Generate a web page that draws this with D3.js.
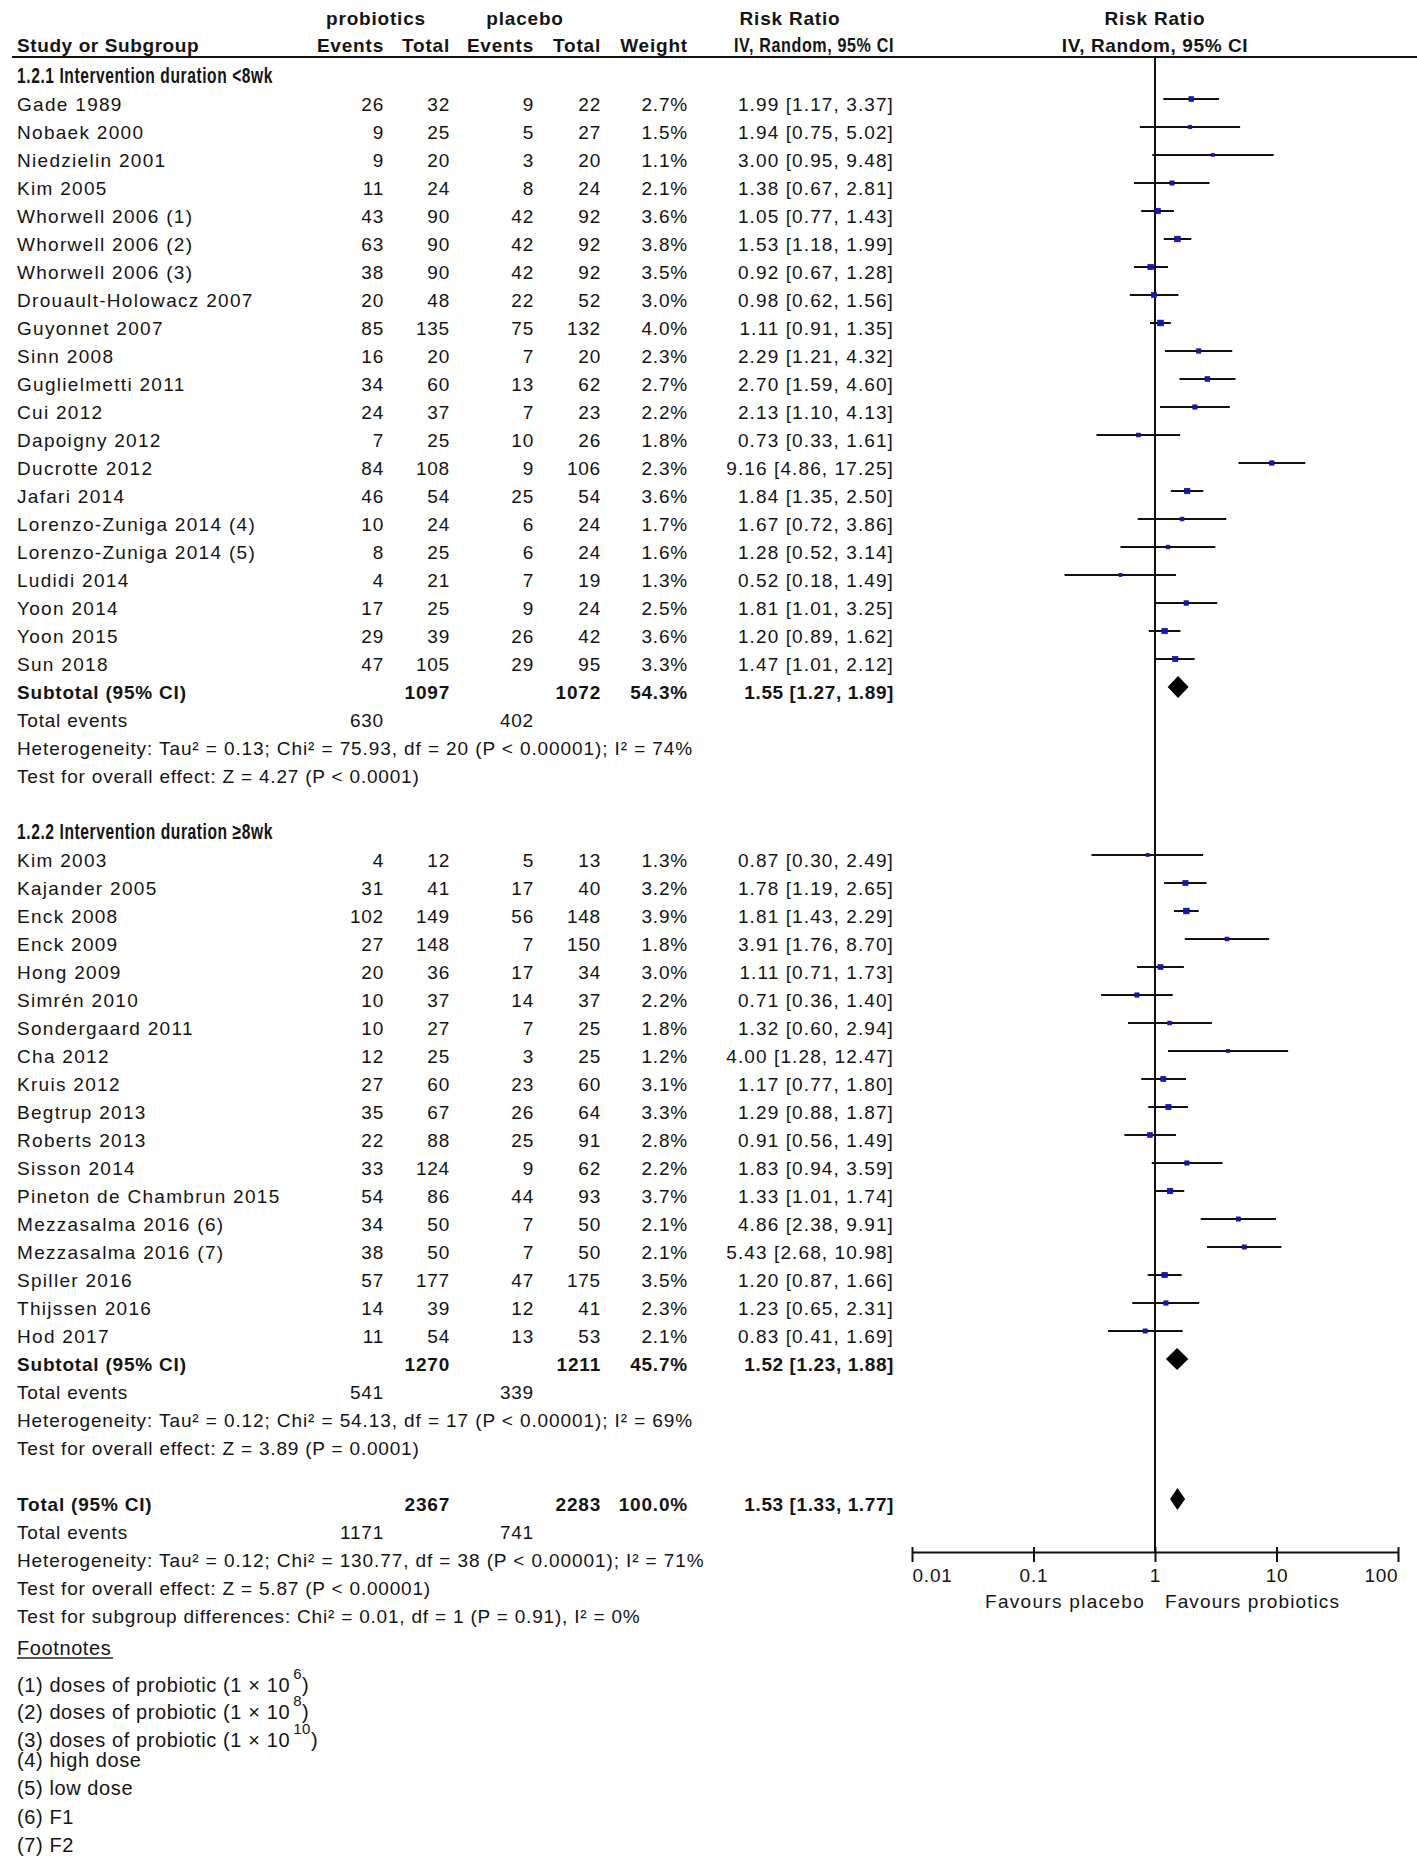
<!DOCTYPE html>
<html><head><meta charset="utf-8">
<script src="https://cdn.jsdelivr.net/npm/d3@7/dist/d3.min.js"></script>
<style>
body{margin:0;background:#fff}
text{font-family:"Liberation Sans",Arial,sans-serif;fill:#141414}
</style>
</head><body>
<svg id="c" width="1417" height="1876"></svg>
<script>
// ---------- DATA ----------
// [study, probiotic events, probiotic total, placebo events, placebo total, weight %, RR, CI low, CI high]
const group1 = [
  ["Gade 1989",26,32,9,22,2.7,1.99,1.17,3.37],
  ["Nobaek 2000",9,25,5,27,1.5,1.94,0.75,5.02],
  ["Niedzielin 2001",9,20,3,20,1.1,3.00,0.95,9.48],
  ["Kim 2005",11,24,8,24,2.1,1.38,0.67,2.81],
  ["Whorwell 2006 (1)",43,90,42,92,3.6,1.05,0.77,1.43],
  ["Whorwell 2006 (2)",63,90,42,92,3.8,1.53,1.18,1.99],
  ["Whorwell 2006 (3)",38,90,42,92,3.5,0.92,0.67,1.28],
  ["Drouault-Holowacz 2007",20,48,22,52,3.0,0.98,0.62,1.56],
  ["Guyonnet 2007",85,135,75,132,4.0,1.11,0.91,1.35],
  ["Sinn 2008",16,20,7,20,2.3,2.29,1.21,4.32],
  ["Guglielmetti 2011",34,60,13,62,2.7,2.70,1.59,4.60],
  ["Cui 2012",24,37,7,23,2.2,2.13,1.10,4.13],
  ["Dapoigny 2012",7,25,10,26,1.8,0.73,0.33,1.61],
  ["Ducrotte 2012",84,108,9,106,2.3,9.16,4.86,17.25],
  ["Jafari 2014",46,54,25,54,3.6,1.84,1.35,2.50],
  ["Lorenzo-Zuniga 2014 (4)",10,24,6,24,1.7,1.67,0.72,3.86],
  ["Lorenzo-Zuniga 2014 (5)",8,25,6,24,1.6,1.28,0.52,3.14],
  ["Ludidi 2014",4,21,7,19,1.3,0.52,0.18,1.49],
  ["Yoon 2014",17,25,9,24,2.5,1.81,1.01,3.25],
  ["Yoon 2015",29,39,26,42,3.6,1.20,0.89,1.62],
  ["Sun 2018",47,105,29,95,3.3,1.47,1.01,2.12]
];
const group2 = [
  ["Kim 2003",4,12,5,13,1.3,0.87,0.30,2.49],
  ["Kajander 2005",31,41,17,40,3.2,1.78,1.19,2.65],
  ["Enck 2008",102,149,56,148,3.9,1.81,1.43,2.29],
  ["Enck 2009",27,148,7,150,1.8,3.91,1.76,8.70],
  ["Hong 2009",20,36,17,34,3.0,1.11,0.71,1.73],
  ["Simrén 2010",10,37,14,37,2.2,0.71,0.36,1.40],
  ["Sondergaard 2011",10,27,7,25,1.8,1.32,0.60,2.94],
  ["Cha 2012",12,25,3,25,1.2,4.00,1.28,12.47],
  ["Kruis 2012",27,60,23,60,3.1,1.17,0.77,1.80],
  ["Begtrup 2013",35,67,26,64,3.3,1.29,0.88,1.87],
  ["Roberts 2013",22,88,25,91,2.8,0.91,0.56,1.49],
  ["Sisson 2014",33,124,9,62,2.2,1.83,0.94,3.59],
  ["Pineton de Chambrun 2015",54,86,44,93,3.7,1.33,1.01,1.74],
  ["Mezzasalma 2016 (6)",34,50,7,50,2.1,4.86,2.38,9.91],
  ["Mezzasalma 2016 (7)",38,50,7,50,2.1,5.43,2.68,10.98],
  ["Spiller 2016",57,177,47,175,3.5,1.20,0.87,1.66],
  ["Thijssen 2016",14,39,12,41,2.3,1.23,0.65,2.31],
  ["Hod 2017",11,54,13,53,2.1,0.83,0.41,1.69]
];
const groupTitles = ["1.2.1 Intervention duration <8wk","1.2.2 Intervention duration \u22658wk"];
// [probiotic total, placebo total, weight, RR, low, high]
const subtotals = [[1097,1072,54.3,1.55,1.27,1.89],[1270,1211,45.7,1.52,1.23,1.88]];
const subtotalEvents = [[630,402],[541,339]];
const subHetero = [
  "Heterogeneity: Tau\u00B2 = 0.13; Chi\u00B2 = 75.93, df = 20 (P < 0.00001); I\u00B2 = 74%",
  "Heterogeneity: Tau\u00B2 = 0.12; Chi\u00B2 = 54.13, df = 17 (P < 0.00001); I\u00B2 = 69%"
];
const subEffect = ["Test for overall effect: Z = 4.27 (P < 0.0001)","Test for overall effect: Z = 3.89 (P = 0.0001)"];
const overall = [2367,2283,100.0,1.53,1.33,1.77];
const overallEvents = [1171,741];
const overallTexts = [
  "Heterogeneity: Tau\u00B2 = 0.12; Chi\u00B2 = 130.77, df = 38 (P < 0.00001); I\u00B2 = 71%",
  "Test for overall effect: Z = 5.87 (P < 0.00001)",
  "Test for subgroup differences: Chi\u00B2 = 0.01, df = 1 (P = 0.91), I\u00B2 = 0%"
];
const footnotes = [
  ["(1) doses of probiotic (1 \u00D7 10","6",")"],
  ["(2) doses of probiotic (1 \u00D7 10","8",")"],
  ["(3) doses of probiotic (1 \u00D7 10","10",")"],
  ["(4) high dose"],["(5) low dose"],["(6) F1"],["(7) F2"]
];
const tickValues = [0.01,0.1,1,10,100];
const tickLabels = ["0.01","0.1","1","10","100"];
const favourLabels = ["Favours placebo","Favours probiotics"];

// ---------- LAYOUT ----------
const svg = d3.select("#c");
const FS = 19;
const rowY = i => 99 + 28*i;          // line centre of row i
const base = i => rowY(i) + 12;        // text baseline of row i
const col = {name:17, pe:384, pt:450, ce:534, ct:601, w:688, ci:894};
const x = d3.scaleLog().domain([0.01,100]).range([912,1398]);
const axisY = 1552;

function txt(xp, yp, s, opt={}) {
  const t = svg.append("text").attr("x",xp).attr("y",yp)
    .attr("font-size",opt.size||FS)
    .attr("font-weight",opt.bold?"bold":"normal")
    .attr("letter-spacing",opt.ls!=null?opt.ls:0.8)
    .attr("text-anchor",opt.anchor||"start")
    .text(s);
  if (opt.len) t.attr("textLength",opt.len).attr("lengthAdjust","spacingAndGlyphs");
  return t;
}
const fmtCI = (r,l,h)=>`${r.toFixed(2)} [${l.toFixed(2)}, ${h.toFixed(2)}]`;

// header
txt(376,25,"probiotics",{bold:true,anchor:"middle"});
txt(525,25,"placebo",{bold:true,anchor:"middle"});
txt(790,25,"Risk Ratio",{bold:true,anchor:"middle"});
txt(1155,25,"Risk Ratio",{bold:true,anchor:"middle"});
txt(col.name,52,"Study or Subgroup",{bold:true,ls:0.6});
txt(col.pe,52,"Events",{bold:true,anchor:"end"});
txt(col.pt,52,"Total",{bold:true,anchor:"end"});
txt(col.ce,52,"Events",{bold:true,anchor:"end"});
txt(col.ct,52,"Total",{bold:true,anchor:"end"});
txt(col.w,52,"Weight",{bold:true,anchor:"end"});
txt(734,52,"IV, Random, 95% CI",{bold:true,len:160,size:20.5});
txt(1155,52,"IV, Random, 95% CI",{bold:true,anchor:"middle",ls:0.6});
svg.append("line").attr("x1",12).attr("x2",1417).attr("y1",57).attr("y2",57)
  .attr("stroke","#111").attr("stroke-width",2);

// vertical line of no effect
svg.append("line").attr("x1",x(1)).attr("x2",x(1)).attr("y1",57).attr("y2",axisY)
  .attr("stroke","#111").attr("stroke-width",2);

function diamond(i, r, l, h) {
  const yy = rowY(i);
  svg.append("polygon")
    .attr("points",[[x(l),yy],[x(r),yy-11],[x(h),yy],[x(r),yy+11]].map(p=>p.join(",")).join(" "))
    .attr("fill","#000");
}

function drawGroup(data, startRow, gi) {
  txt(col.name, base(startRow-1), groupTitles[gi], {bold:true,len:256,size:21.5});
  data.forEach((d,k)=>{
    const i = startRow + k, b = base(i);
    txt(col.name,b,d[0],{ls:1.3});
    txt(col.pe,b,d[1],{anchor:"end"});
    txt(col.pt,b,d[2],{anchor:"end"});
    txt(col.ce,b,d[3],{anchor:"end"});
    txt(col.ct,b,d[4],{anchor:"end"});
    txt(col.w,b,d[5].toFixed(1)+"%",{anchor:"end"});
    txt(col.ci,b,fmtCI(d[6],d[7],d[8]),{anchor:"end",ls:1.1});
    const yy = rowY(i);
    svg.append("line").attr("x1",x(d[7])).attr("x2",x(d[8])).attr("y1",yy).attr("y2",yy)
      .attr("stroke","#111").attr("stroke-width",2);
    const s = 2.9*Math.sqrt(d[5]);
    svg.append("rect").attr("x",x(d[6])-s/2).attr("y",yy-s/2).attr("width",s).attr("height",s)
      .attr("fill","#1414c8").attr("stroke","#10106a").attr("stroke-width",0.6);
  });
  const sr = startRow + data.length, st = subtotals[gi];
  txt(col.name,base(sr),"Subtotal (95% CI)",{bold:true});
  txt(col.pt,base(sr),st[0],{bold:true,anchor:"end"});
  txt(col.ct,base(sr),st[1],{bold:true,anchor:"end"});
  txt(col.w,base(sr),st[2].toFixed(1)+"%",{bold:true,anchor:"end"});
  txt(col.ci,base(sr),fmtCI(st[3],st[4],st[5]),{bold:true,anchor:"end",ls:0.6});
  diamond(sr, st[3], st[4], st[5]);
  txt(col.name,base(sr+1),"Total events");
  txt(col.pe,base(sr+1),subtotalEvents[gi][0],{anchor:"end"});
  txt(col.ce,base(sr+1),subtotalEvents[gi][1],{anchor:"end"});
  txt(col.name,base(sr+2),subHetero[gi],{ls:0.9});
  txt(col.name,base(sr+3),subEffect[gi]);
}
drawGroup(group1, 0, 0);
drawGroup(group2, 27, 1);

// overall
const tr = 50;
txt(col.name,base(tr),"Total (95% CI)",{bold:true});
txt(col.pt,base(tr),overall[0],{bold:true,anchor:"end"});
txt(col.ct,base(tr),overall[1],{bold:true,anchor:"end"});
txt(col.w,base(tr),overall[2].toFixed(1)+"%",{bold:true,anchor:"end"});
txt(col.ci,base(tr),fmtCI(overall[3],overall[4],overall[5]),{bold:true,anchor:"end",ls:0.6});
diamond(tr, overall[3], overall[4], overall[5]);
txt(col.name,base(tr+1),"Total events");
txt(col.pe,base(tr+1),overallEvents[0],{anchor:"end"});
txt(col.ce,base(tr+1),overallEvents[1],{anchor:"end"});
overallTexts.forEach((t,k)=>txt(col.name,base(tr+2+k),t,{ls:k===0?0.9:0.8}));

// axis
const axisG = svg.append("g").attr("transform",`translate(0,${axisY})`)
  .call(d3.axisBottom(x).tickValues(tickValues).tickFormat((d,i)=>tickLabels[i]).tickSizeOuter(0).tickSizeInner(10));
axisG.select(".domain").attr("stroke","#111").attr("stroke-width",2);
axisG.selectAll(".tick line").attr("y1",-5).attr("y2",10).attr("stroke","#111").attr("stroke-width",2);
axisG.selectAll(".tick text").attr("y",17).attr("font-size",FS).attr("letter-spacing",0.8)
  .attr("font-family","Liberation Sans, Arial, sans-serif").attr("fill","#141414")
  .attr("text-anchor",(d,i)=> i===0?"start":(i===tickValues.length-1?"end":"middle"));
txt(1145,1608,favourLabels[0],{anchor:"end",ls:1.3});
txt(1165,1608,favourLabels[1],{ls:1.1});

// footnotes
txt(17,1655,"Footnotes",{size:20,ls:0.6});
svg.append("line").attr("x1",17).attr("x2",113).attr("y1",1658).attr("y2",1658).attr("stroke","#222").attr("stroke-width",1.3);
const fnY = [1692,1719,1747,1767,1795,1824,1852];
footnotes.forEach((f,k)=>{
  const t = txt(17,fnY[k],f[0],{size:20,ls:0.6});
  if (f.length>1) {
    t.append("tspan").attr("font-size",15).attr("dy",-13).attr("dx",3).text(f[1]);
    t.append("tspan").attr("dy",13).text(f[2]);
  }
});
</script>
</body></html>
